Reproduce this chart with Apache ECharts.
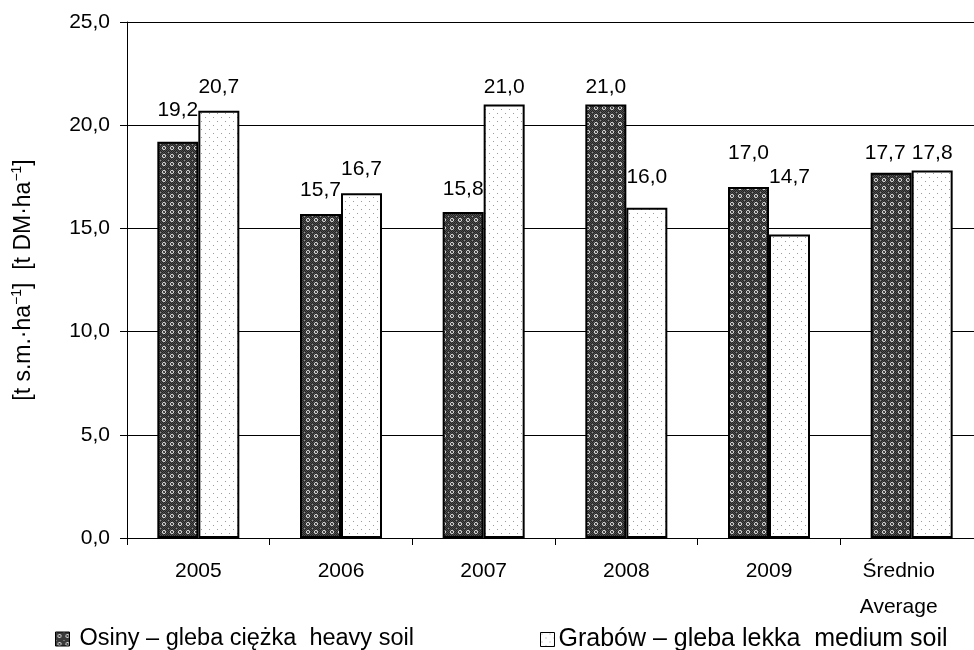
<!DOCTYPE html>
<html>
<head>
<meta charset="utf-8">
<script src="https://cdn.jsdelivr.net/npm/echarts@6/dist/echarts.min.js"></script>
<style>
  html, body { margin: 0; padding: 0; background: #fff; }
  #chart { width: 974px; height: 650px; }
</style>
</head>
<body>
<div id="chart"></div>
<script>
// Yields per year, t DM/ha
const categories = ['2005', '2006', '2007', '2008', '2009', 'Średnio\nAverage'];
const heavySoil = [19.2, 15.7, 15.8, 21.0, 17.0, 17.7];
const mediumSoil = [20.7, 16.7, 21.0, 16.0, 14.7, 17.8];
const seriesNames = ['Osiny – gleba ciężka  heavy soil', 'Grabów – gleba lekka  medium soil'];
const yTicks = [0, 5, 10, 15, 20, 25];

// Label placement: height of each value label's centre above its bar top (px),
// and a small sideways nudge where neighbouring labels would touch
const heavyLabelLift = [32, 24, 23, 18, 34, 20];
const mediumLabelLift = [24, 25, 18, 31, 58, 18];
const heavyLabelShift = [0, 0, 0, 0, 0, -6];
const mediumLabelShift = [0, 0, 0, 0, 0, 0];

const FONT = '"Liberation Sans", Arial, sans-serif';
const fmt = v => v.toFixed(1).replace('.', ',');

// Fill textures for the two series
function darkTile() {
  const c = document.createElement('canvas');
  c.width = 8; c.height = 8;
  const g = c.getContext('2d');
  g.fillStyle = '#4e4e4e';
  g.fillRect(0, 0, 8, 8);
  g.fillStyle = '#242424';
  for (let y = 0; y < 8; y++) for (let x = 0; x < 8; x++) {
    if ((x + y) % 2 === 0) g.fillRect(x, y, 1, 1);
  }
  g.strokeStyle = '#dcdcdc';
  g.lineWidth = 1;
  g.beginPath();
  g.arc(4, 4, 1.6, 0, Math.PI * 2);
  g.stroke();
  g.fillStyle = '#3a3a3a';
  g.fillRect(3.5, 3.5, 1, 1);
  g.fillStyle = '#959595';
  g.fillRect(0, 0, 1, 1);
  return c;
}
function lightTile() {
  const c = document.createElement('canvas');
  c.width = 8; c.height = 8;
  const g = c.getContext('2d');
  g.fillStyle = '#fff';
  g.fillRect(0, 0, 8, 8);
  g.fillStyle = '#9c9c9c';
  g.fillRect(1, 1, 1, 1);
  g.fillRect(5, 5, 1, 1);
  return c;
}

const labelBase = {
  show: true,
  position: 'top',
  color: '#000',
  fontFamily: FONT,
  fontSize: 21,
  formatter: p => fmt(p.value)
};

function withLabels(values, lifts, shifts) {
  return values.map((v, i) => ({
    value: v,
    label: { distance: Math.max(0, lifts[i] - 11), offset: [shifts[i], 0] }
  }));
}

const legendText = size => ({ fontFamily: FONT, fontSize: size, color: '#000' });

const chart = echarts.init(document.getElementById('chart'), null, { renderer: 'canvas' });

chart.setOption({
  animation: false,
  backgroundColor: '#fff',
  textStyle: { fontFamily: FONT, color: '#000' },
  // the last category runs slightly past the right edge of the page
  grid: { left: 127, top: 22, width: 856, bottom: 112, containLabel: false, outerBoundsMode: 'none' },
  legend: [
    {
      data: [seriesNames[0]],
      icon: 'rect',
      left: 50, top: 622,
      itemWidth: 14, itemHeight: 14,
      itemStyle: { borderWidth: 1, borderColor: '#000' },
      textStyle: Object.assign(legendText(23.5), { padding: [0, 0, 0, 5] })
    },
    {
      data: [seriesNames[1]],
      icon: 'rect',
      left: 535, top: 622,
      itemWidth: 14, itemHeight: 14,
      itemStyle: { borderWidth: 1, borderColor: '#000' },
      textStyle: Object.assign(legendText(25), { padding: [0, 0, 0, -1] })
    }
  ],
  xAxis: {
    type: 'category',
    data: categories,
    axisLine: { lineStyle: { color: '#000', width: 1 } },
    axisTick: { show: true, interval: 0, length: 7, lineStyle: { color: '#000' } },
    axisLabel: {
      interval: 0,
      hideOverlap: false,
      color: '#000', fontFamily: FONT, fontSize: 21, margin: 15, lineHeight: 36,
      // the two-line summary label sits a little left of its bars, clear of the page edge
      formatter: v => (v.indexOf('\n') >= 0
        ? v.split('\n').map(s => '{edge|' + s + '}').join('\n')
        : v),
      rich: {
        edge: { fontFamily: FONT, fontSize: 21, color: '#000', lineHeight: 36, padding: [0, 26, 0, 0] }
      }
    }
  },
  yAxis: {
    type: 'value',
    min: yTicks[0],
    max: yTicks[yTicks.length - 1],
    interval: 5,
    name: '{a|[t s.m.·ha}{s|−1}{a|]  [t DM·ha}{s|−1}{a|]}',
    nameLocation: 'middle',
    nameRotate: 90,
    nameGap: 90,
    nameTextStyle: {
      rich: {
        a: { fontFamily: FONT, fontSize: 23, color: '#000' },
        s: { fontFamily: FONT, fontSize: 14, color: '#000', padding: [0, 0, 13, 0] }
      }
    },
    axisLine: { show: true, lineStyle: { color: '#000', width: 1 } },
    axisTick: { show: true, length: 7, lineStyle: { color: '#000' } },
    axisLabel: {
      color: '#000', fontFamily: FONT, fontSize: 21, margin: 17,
      formatter: v => fmt(v)
    },
    splitLine: { show: true, lineStyle: { color: '#000', width: 1 } }
  },
  series: [
    {
      name: seriesNames[0],
      type: 'bar',
      barWidth: 41,
      barGap: '0%',
      data: withLabels(heavySoil, heavyLabelLift, heavyLabelShift),
      itemStyle: {
        color: { image: darkTile(), repeat: 'repeat' },
        borderColor: '#000',
        borderWidth: 2
      },
      label: labelBase
    },
    {
      name: seriesNames[1],
      type: 'bar',
      barWidth: 41,
      barGap: '0%',
      data: withLabels(mediumSoil, mediumLabelLift, mediumLabelShift),
      itemStyle: {
        color: { image: lightTile(), repeat: 'repeat' },
        borderColor: '#000',
        borderWidth: 2
      },
      label: labelBase
    }
  ]
});
</script>
</body>
</html>
